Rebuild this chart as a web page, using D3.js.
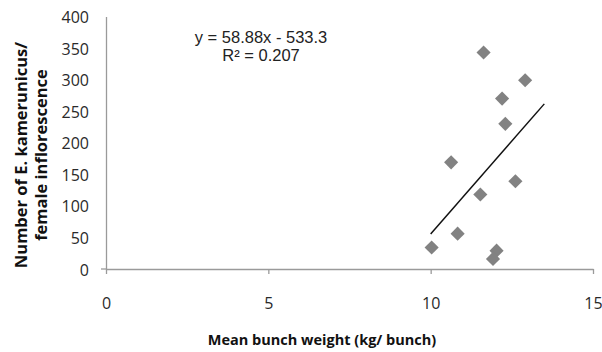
<!DOCTYPE html>
<html>
<head>
<meta charset="utf-8">
<script src="https://cdn.jsdelivr.net/npm/d3@7"></script>
<style>
  html, body { margin: 0; padding: 0; background: #fff; }
  svg { display: block; }
</style>
</head>
<body>
<div id="chart"></div>
<script>
// Data
const bunchWeight = [11.63, 12.91, 12.20, 12.30, 10.63, 12.61, 11.53, 10.83, 10.03, 12.03, 11.92];
const kamerunicus = [343, 299, 270, 230, 169, 139, 118, 56, 34, 29, 16];
const xTicks = [0, 5, 10, 15];
const yTicks = [0, 50, 100, 150, 200, 250, 300, 350, 400];
const trendSlope = 58.88;
const trendIntercept = -533.3;
const trendRange = [10.0, 13.5];
const equationLines = ["y = 58.88x - 533.3", "R\u00B2 = 0.207"];
const xTitle = "Mean bunch weight (kg/ bunch)";
const yTitleLines = ["Number of E. kamerunicus/", "female inflorescence"];

const W = 602, H = 352;
const svg = d3.select("#chart").append("svg").attr("width", W).attr("height", H);

const x = d3.scaleLinear().domain([0, 15]).range([106, 593]);
const y = d3.scaleLinear().domain([0, 400]).range([269, 16.5]);

const axisColor = "#9a9a9a";
const tickFont = "'Open Sans', sans-serif";

// X axis
const xAxis = svg.append("g").attr("transform", `translate(0,${y(0)})`)
  .call(d3.axisBottom(x).tickValues(xTicks).tickSize(5).tickSizeOuter(0).tickPadding(24));
xAxis.select(".domain").attr("stroke", axisColor).attr("stroke-width", 1.3);
xAxis.selectAll(".tick line").attr("stroke", axisColor).attr("stroke-width", 1.3);
xAxis.selectAll(".tick text").attr("font-family", tickFont).attr("font-size", 16).attr("fill", "#2a2a2a");

// Y axis
const yAxis = svg.append("g").attr("transform", `translate(${x(0)},0)`)
  .call(d3.axisLeft(y).tickValues(yTicks).tickSize(0).tickSizeOuter(0).tickPadding(17));
yAxis.select(".domain").attr("stroke", axisColor).attr("stroke-width", 1.3);
yAxis.selectAll(".tick text").attr("font-family", tickFont).attr("font-size", 16).attr("fill", "#2a2a2a")
  .attr("dy", "0.38em");
// small tick at origin to the left
svg.append("line").attr("x1", x(0) - 5).attr("x2", x(0)).attr("y1", y(0)).attr("y2", y(0))
  .attr("stroke", axisColor).attr("stroke-width", 1.3);

// Points
const pts = bunchWeight.map((v, i) => [v, kamerunicus[i]]);
const diamond = d3.symbol().type(d3.symbolSquare).size(100);
svg.append("g").selectAll("path").data(pts).join("path")
  .attr("d", diamond)
  .attr("transform", d => `translate(${x(d[0])},${y(d[1])}) rotate(45)`)
  .attr("fill", "#828282");

// Trend line
svg.append("line")
  .attr("x1", x(trendRange[0])).attr("y1", y(trendSlope * trendRange[0] + trendIntercept))
  .attr("x2", x(trendRange[1])).attr("y2", y(trendSlope * trendRange[1] + trendIntercept))
  .attr("stroke", "#111").attr("stroke-width", 1.5);

// Equation
svg.append("g").selectAll("text").data(equationLines).join("text")
  .attr("x", 261).attr("y", (d, i) => 43 + i * 18)
  .attr("text-anchor", "middle")
  .attr("font-family", "'Liberation Sans', Arial, sans-serif")
  .attr("font-size", 16.5).attr("fill", "#222")
  .text(d => d);

// X title
svg.append("text").attr("x", 322).attr("y", 345).attr("text-anchor", "middle")
  .attr("font-family", tickFont).attr("font-weight", "bold").attr("font-size", 14.5)
  .attr("fill", "#111").text(xTitle);

// Y title
svg.append("g").selectAll("text").data(yTitleLines).join("text")
  .attr("transform", (d, i) => `translate(${27 + i * 20},${155}) rotate(-90)`)
  .attr("text-anchor", "middle")
  .attr("font-family", tickFont).attr("font-weight", "bold").attr("font-size", 16.5)
  .attr("fill", "#111").text(d => d);
</script>
</body>
</html>
